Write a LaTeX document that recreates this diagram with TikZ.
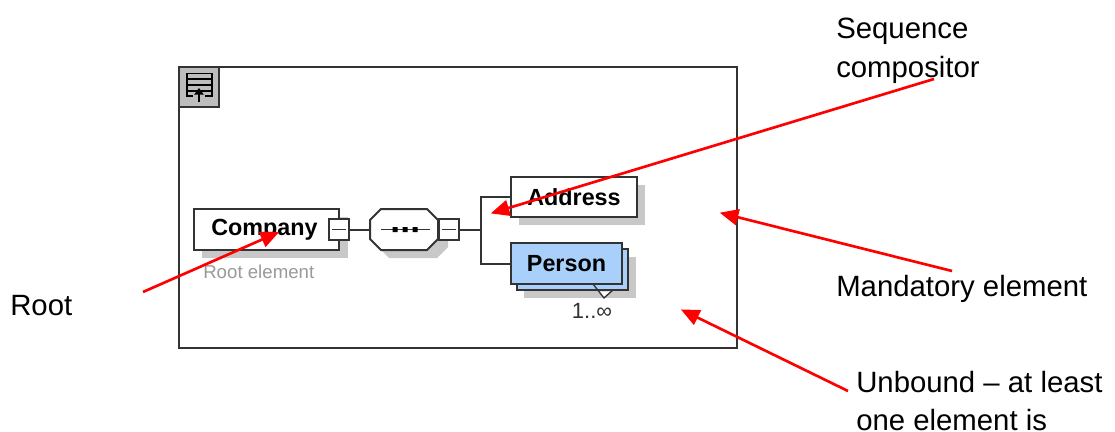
\documentclass[tikz,border=0pt]{standalone}
\usepackage{fontspec}
\setmainfont{Liberation Sans}
\usetikzlibrary{arrows.meta}
\definecolor{frameC}{HTML}{333333}
\definecolor{shadowC}{HTML}{C8C8C8}
\definecolor{personC}{HTML}{A8D0FA}
\definecolor{iconC}{HTML}{BDBDBD}
\definecolor{rootC}{HTML}{9A9A9A}
\tikzset{
  sz/.style 2 args={minimum width=#1*0.75pt,minimum height=#2*0.75pt,inner sep=0pt,outer sep=0pt},
  elem/.style={draw=frameC,line width=1.5pt,fill=white,font=\fontsize{17.5}{20}\selectfont\bfseries,text=black},
  shade/.style={fill=shadowC,draw=none},
  minusbox/.style={draw=frameC,line width=1.5pt,fill=white,sz={20}{21}},
  wire/.style={draw=frameC,line width=1.5pt},
  note/.style={anchor=base west,inner sep=0pt,font=\fontsize{22}{24}\selectfont,text=black},
  callout/.style={draw=red,line width=2pt,-{Triangle[length=14pt,width=12pt]},shorten >=-1pt}
}
\begin{document}
\begin{tikzpicture}[x=0.75pt,y=-0.75pt]
\useasboundingbox (0,0) rectangle (1115,432);
\fill[white] (0,0) rectangle (1115,432);
% frame
\node[draw=frameC,line width=1.5pt,sz={558}{281}] (frame) at (458,207.5) {};
% root icon
\node[draw=frameC,line width=1.5pt,fill=iconC,sz={40}{40}] (icon) at (199,87) {};
\draw[draw=black,line width=1.3pt] (193,96) -- (187,96) -- (187,73.5) -- (212,73.5) -- (212,96) -- (205,96);
\draw[draw=black,line width=1.1pt] (187,79) -- (212,79) (187,85) -- (212,85) (187,91) -- (212,91);
\draw[draw=black,line width=1.2pt,-{Triangle[length=5pt,width=7pt]}] (199,102) -- (199,88);
% shadows
\fill[shade] (202,217) rectangle (348,258);
\fill[shade] (388,217) -- (436,217) -- (448,228) -- (448,247) -- (437,258) -- (389,258) -- (378,247) -- cycle;
\fill[shade] (519,185) rectangle (645,225);
\fill[shade] (524,257) rectangle (636,298);
% nodes
\node[elem,sz={145}{41}] (company) at (266.5,229.5) {\hspace*{-3pt}Company};
\node[minusbox] (minusA) at (339,229.5) {};
\node[sz={68}{41}] (seq) at (404,229.5) {};
\draw[draw=frameC,line width=1.5pt,fill=white] (381,209) -- (427,209) -- (438,220) -- (438,239) -- (427,250) -- (381,250) -- (370,239) -- (370,220) -- cycle;
\node[minusbox] (minusB) at (449,229.5) {};
\node[elem,sz={126}{40}] (address) at (574,197) {Address};
\node[draw=frameC,line width=1.5pt,fill=personC,sz={111}{41}] (personback) at (572.5,269.5) {};
\node[elem,fill=personC,sz={111}{41}] (person) at (566.5,263.5) {Person};
\node[anchor=base west,inner sep=0pt,font=\fontsize{14}{16}\selectfont,text=rootC] (rootlabel) at (203,278) {Root element};
\node[anchor=base,inner sep=0pt,font=\fontsize{16.5}{18}\selectfont,text=frameC] (card) at (592,318) {1..∞};
% details
\draw[wire,line width=1.2pt] (332,229.5) -- (346,229.5) (442,229.5) -- (456,229.5);
\draw[wire,line width=1.2pt] (381,229.5) -- (430,229.5);
\fill[black] (392.5,227) rectangle (397.5,232) (402.5,227) rectangle (407.5,232) (412.5,227) rectangle (417.5,232);
\fill[white] (598,291.5) -- (610,291.5) -- (604,297) -- cycle;
\draw[draw=frameC,line width=1pt] (593,284) -- (604,298) -- (613,290);
% connectors
\coordinate (fork) at (481,229.5);
\draw[wire] (minusA) -- (seq);
\draw[wire] (minusB) -- (fork);
\draw[wire] (address.west) -| (fork) |- (person.west);
% notes
\node[note] (n1) at (836,38) {Sequence};
\node[note] (n2) at (836,77) {compositor};
\node[note] (n3) at (836,296) {Mandatory element};
\node[note] (n4) at (856,392) {Unbound – at least};
\node[note] (n5) at (856,430) {one element is};
\node[note] (n6) at (10,315) {Root};
% callouts
\coordinate (a1s) at (143,292); \coordinate (a1t) at (278,232.5);
\coordinate (a2s) at (934,79);  \coordinate (a2t) at (492,213);
\coordinate (a3s) at (952,271); \coordinate (a3t) at (721,213);
\coordinate (a4s) at (848,391); \coordinate (a4t) at (682,310);
\draw[callout] (a1s) -- (a1t);
\draw[callout] (a2s) -- (a2t);
\draw[callout] (a3s) -- (a3t);
\draw[callout] (a4s) -- (a4t);
\end{tikzpicture}
\end{document}
